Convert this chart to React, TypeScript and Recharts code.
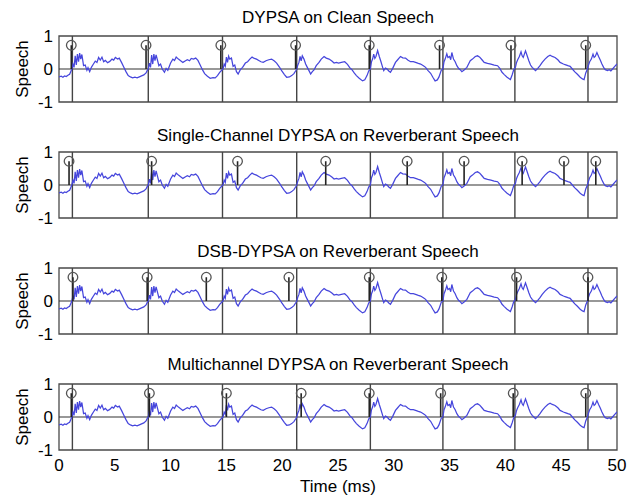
import {
  ComposedChart,
  Line,
  Scatter,
  XAxis,
  YAxis,
  ReferenceLine,
  ReferenceArea,
} from "recharts";

// speech waveform, [time in ms, amplitude]
const speech: [number, number][] = [
  [0, -0.24], [0.2, -0.22], [0.35, -0.25], [0.5, -0.21], [0.65, -0.23], [0.8, -0.19], [0.95, -0.16], [1.05, -0.08],
  [1.15, 0.0], [1.25, 0.15], [1.35, 0.05], [1.45, 0.4], [1.55, 0.12], [1.65, 0.45], [1.75, 0.22], [1.85, 0.48],
  [1.95, 0.3], [2.05, 0.44], [2.2, 0.1], [2.35, 0.12], [2.5, -0.04], [2.6, 0.04], [2.75, -0.08], [2.9, 0.05],
  [3.1, 0.16], [3.25, 0.24], [3.4, 0.2], [3.55, 0.35], [3.7, 0.27], [3.85, 0.36], [4.0, 0.22], [4.15, 0.26],
  [4.35, 0.19], [4.55, 0.23], [4.75, 0.3], [4.9, 0.27], [5.05, 0.35], [5.25, 0.3], [5.4, 0.33], [5.6, 0.2],
  [5.8, 0.06], [6.0, -0.08], [6.2, -0.2], [6.4, -0.24], [6.6, -0.27], [6.8, -0.25], [7.0, -0.27], [7.2, -0.24],
  [7.4, -0.21], [7.6, -0.18], [7.8, -0.12], [7.9, -0.05],
  [8.0, 0.0], [8.1, 0.18], [8.2, 0.05], [8.3, 0.42], [8.4, 0.15], [8.5, 0.45], [8.6, 0.25], [8.7, 0.43],
  [8.8, 0.3], [8.95, 0.1], [9.1, 0.15], [9.25, 0.0], [9.45, -0.1], [9.6, 0.02], [9.75, -0.04], [10.0, 0.18],
  [10.2, 0.3], [10.35, 0.26], [10.5, 0.36], [10.7, 0.3], [10.9, 0.25], [11.1, 0.2], [11.3, 0.24], [11.5, 0.28],
  [11.7, 0.25], [11.85, 0.32], [12.05, 0.3], [12.25, 0.33], [12.45, 0.26], [12.65, 0.12], [12.85, -0.02],
  [13.05, -0.14], [13.3, -0.22], [13.55, -0.28], [13.8, -0.26], [14.0, -0.27], [14.2, -0.2], [14.4, -0.1],
  [14.6, -0.03],
  [14.7, 0.0], [14.8, 0.15], [14.9, 0.08], [15.0, 0.36], [15.1, 0.2], [15.2, 0.39], [15.3, 0.3], [15.45, 0.33],
  [15.6, 0.08], [15.75, 0.12], [15.9, -0.08], [16.05, -0.15], [16.25, -0.02], [16.45, 0.05], [16.7, 0.18],
  [16.9, 0.22], [17.1, 0.3], [17.3, 0.36], [17.5, 0.32], [17.7, 0.3], [17.9, 0.26], [18.1, 0.22], [18.3, 0.2],
  [18.55, 0.25], [18.8, 0.28], [19.05, 0.3], [19.3, 0.24], [19.5, 0.18], [19.75, 0.06], [19.95, -0.05],
  [20.2, -0.17], [20.4, -0.25], [20.65, -0.24], [20.85, -0.2], [21.05, -0.14], [21.2, -0.06],
  [21.3, 0.0], [21.4, 0.12], [21.5, 0.2], [21.6, 0.38], [21.7, 0.25], [21.8, 0.4], [21.95, 0.3], [22.1, 0.15],
  [22.25, 0.05], [22.4, -0.05], [22.55, -0.15], [22.7, -0.08], [22.85, -0.03], [23.05, 0.1], [23.3, 0.2],
  [23.5, 0.3], [23.75, 0.38], [23.95, 0.33], [24.2, 0.3], [24.45, 0.24], [24.65, 0.18], [24.85, 0.2],
  [25.05, 0.18], [25.3, 0.2], [25.6, 0.22], [25.85, 0.14], [26.05, 0.04], [26.25, -0.02], [26.45, -0.12],
  [26.65, -0.2], [26.9, -0.28], [27.2, -0.36], [27.4, -0.33], [27.6, -0.2], [27.75, -0.06],
  [27.9, 0.0], [28.0, 0.22], [28.1, 0.3], [28.2, 0.45], [28.3, 0.32], [28.4, 0.38], [28.55, 0.56], [28.7, 0.38],
  [28.85, 0.22], [29.0, 0.05], [29.1, -0.05], [29.25, 0.03], [29.4, 0.0], [29.55, -0.06], [29.7, -0.1],
  [29.9, 0.02], [30.15, 0.2], [30.35, 0.28], [30.6, 0.38], [30.8, 0.34], [31.05, 0.33], [31.25, 0.27],
  [31.5, 0.22], [31.75, 0.22], [31.95, 0.2], [32.2, 0.17], [32.4, 0.15], [32.65, 0.1], [32.85, 0.05],
  [33.05, -0.04], [33.3, -0.13], [33.5, -0.25], [33.7, -0.36], [33.9, -0.33], [34.05, -0.24], [34.25, -0.04],
  [34.4, 0.0], [34.5, 0.22], [34.6, 0.3], [34.75, 0.46], [34.85, 0.35], [35.0, 0.38], [35.1, 0.28], [35.2, 0.5],
  [35.35, 0.3], [35.5, 0.22], [35.65, 0.1], [35.8, 0.02], [35.95, -0.02], [36.1, -0.08], [36.3, -0.03],
  [36.55, 0.05], [36.7, 0.15], [36.85, 0.25], [37.05, 0.3], [37.3, 0.38], [37.5, 0.4], [37.7, 0.36],
  [37.9, 0.28], [38.1, 0.2], [38.4, 0.17], [38.7, 0.15], [39.0, 0.12], [39.3, 0.1], [39.5, 0.02], [39.7, -0.1],
  [39.9, -0.17], [40.15, -0.25], [40.45, -0.32], [40.6, -0.18], [40.75, -0.02],
  [40.9, 0.05], [41.0, 0.2], [41.1, 0.28], [41.25, 0.38], [41.4, 0.52], [41.5, 0.4], [41.6, 0.35], [41.7, 0.45],
  [41.8, 0.55], [41.95, 0.4], [42.1, 0.25], [42.25, 0.12], [42.4, 0.05], [42.55, 0.0], [42.7, -0.05],
  [42.9, 0.02], [43.1, 0.1], [43.3, 0.2], [43.55, 0.3], [43.8, 0.38], [44.0, 0.42], [44.2, 0.38], [44.45, 0.35],
  [44.7, 0.28], [44.9, 0.2], [45.15, 0.16], [45.35, 0.13], [45.6, 0.1], [45.8, 0.08], [46.0, 0.0],
  [46.2, -0.08], [46.45, -0.16], [46.7, -0.25], [46.9, -0.3], [47.05, -0.32], [47.2, -0.12],
  [47.35, 0.0], [47.45, 0.12], [47.55, 0.22], [47.7, 0.3], [47.85, 0.45], [47.95, 0.35], [48.05, 0.38],
  [48.2, 0.5], [48.35, 0.38], [48.5, 0.27], [48.65, 0.15], [48.8, 0.05], [48.95, -0.02], [49.15, -0.05],
  [49.3, -0.02], [49.45, -0.06], [49.6, 0.0], [49.8, 0.08], [50.0, 0.15],
];

// reference glottal closure instants (ms), drawn full height in every panel
const referenceGci = [1.2, 8.0, 14.65, 21.3, 27.9, 34.4, 40.85, 47.4];

const panelTitles = [
  "DYPSA on Clean Speech",
  "Single-Channel DYPSA on Reverberant Speech",
  "DSB-DYPSA on Reverberant Speech",
  "Multichannel DYPSA on Reverberant Speech",
];

// detected GCIs (ms) per panel
const cleanGci = [1.1, 7.8, 14.5, 21.2, 27.8, 34.1, 40.5, 47.2];
const singleChannelGci = [0.9, 8.3, 16.0, 23.9, 31.2, 36.3, 41.5, 45.25, 48.1];
const dsbGci = [1.25, 7.9, 13.2, 20.6, 27.8, 34.3, 41.0, 47.4];
const multichannelGci = [1.1, 8.1, 15.0, 21.7, 27.8, 34.2, 40.7, 47.2];

const stemHeight = 0.72;
const timeTicks = [0, 5, 10, 15, 20, 25, 30, 35, 40, 45, 50];
const speechTicks = [-1, 0, 1];

const FONT = '"Liberation Sans", Arial, sans-serif';
const PLOT_H = 66;
const panelTops = [36, 152, 268, 384];
const titleBaselines = [23, 141, 257, 370];

const speechRows = speech.map(([t, v]) => ({ t, v }));

const StemHead = (props: any) => {
  const { cx, cy } = props;
  if (cx == null || cy == null) return null;
  return <circle cx={cx} cy={cy} r={4.8} fill="none" stroke="#555" strokeWidth={1.3} />;
};

type PanelProps = { gci: number[]; top: number; showTime: boolean };

const Panel = ({ gci, top, showTime }: PanelProps) => {
  const axisH = showTime ? 45 : 10;
  const stems = gci.map((t) => ({ t, v: stemHeight }));
  return (
    <div style={{ position: "absolute", left: 0, top: top - 10 }}>
      <ComposedChart
        width={640}
        height={10 + PLOT_H + axisH}
        margin={{ top: 10, right: 23, bottom: 0, left: 0 }}
      >
        <XAxis
          type="number"
          dataKey="t"
          domain={[0, 50]}
          ticks={timeTicks}
          interval={0}
          allowDataOverflow
          axisLine={false}
          tickLine={false}
          tickSize={0}
          tickMargin={9}
          height={axisH}
          tick={showTime ? { fontSize: 17, fill: "#000", fontFamily: FONT } : false}
        />
        {showTime && (
          <XAxis
            xAxisId="inBottom"
            type="number"
            dataKey="t"
            domain={[0, 50]}
            ticks={timeTicks}
            interval={0}
            mirror
            axisLine={false}
            tick={false}
            tickSize={4}
            tickLine={{ stroke: "#555" }}
          />
        )}
        {showTime && (
          <XAxis
            xAxisId="inTop"
            orientation="top"
            type="number"
            dataKey="t"
            domain={[0, 50]}
            ticks={timeTicks}
            interval={0}
            mirror
            axisLine={false}
            tick={false}
            tickSize={4}
            tickLine={{ stroke: "#555" }}
          />
        )}
        <YAxis
          type="number"
          domain={[-1, 1]}
          ticks={speechTicks}
          interval={0}
          allowDataOverflow
          width={59}
          axisLine={false}
          tickLine={false}
          tickSize={4}
          tickMargin={2}
          tick={{ fontSize: 17, fill: "#000", fontFamily: FONT }}
        />
        <ReferenceArea x1={0} x2={50} y1={-1} y2={1} fill="none" stroke="#4a4a4a" strokeWidth={1.3} />
        {referenceGci.map((t) => (
          <ReferenceLine key={`ref-${t}`} x={t} stroke="#444" strokeWidth={1.4} />
        ))}
        <ReferenceLine y={0} stroke="#333" strokeWidth={1.1} />
        <Line
          data={speechRows}
          dataKey="v"
          type="linear"
          stroke="#4646dc"
          strokeWidth={1.25}
          dot={false}
          isAnimationActive={false}
        />
        {gci.map((t) => (
          <ReferenceLine
            key={`stem-${t}`}
            segment={[
              { x: t, y: 0 },
              { x: t, y: stemHeight },
            ]}
            stroke="#222"
            strokeWidth={1.6}
          />
        ))}
        <Scatter data={stems} dataKey="v" shape={StemHead} isAnimationActive={false} />
      </ComposedChart>
    </div>
  );
};

const textStyle = {
  position: "absolute" as const,
  fontFamily: FONT,
  fontSize: 17,
  lineHeight: "17px",
  color: "#000",
  whiteSpace: "nowrap" as const,
};

export default function App() {
  const panels = [cleanGci, singleChannelGci, dsbGci, multichannelGci];
  return (
    <div
      style={{
        position: "absolute",
        left: 0,
        top: 0,
        width: 640,
        height: 497,
        background: "#fff",
        overflow: "hidden",
      }}
    >
      {panels.map((gci, i) => (
        <Panel key={panelTitles[i]} gci={gci} top={panelTops[i]} showTime={i === 3} />
      ))}
      {panelTitles.map((title, i) => (
        <div
          key={`title-${i}`}
          style={{ ...textStyle, left: 59, width: 558, textAlign: "center", top: titleBaselines[i] - 14.4 }}
        >
          {title}
        </div>
      ))}
      {panelTops.map((top, i) => (
        <div
          key={`ylabel-${i}`}
          style={{
            ...textStyle,
            left: 22,
            top: top + PLOT_H / 2,
            transform: "translate(-50%, -50%) rotate(-90deg)",
          }}
        >
          Speech
        </div>
      ))}
      <div style={{ ...textStyle, left: 59, width: 558, textAlign: "center", top: 492 - 14.4 }}>
        Time (ms)
      </div>
    </div>
  );
}
